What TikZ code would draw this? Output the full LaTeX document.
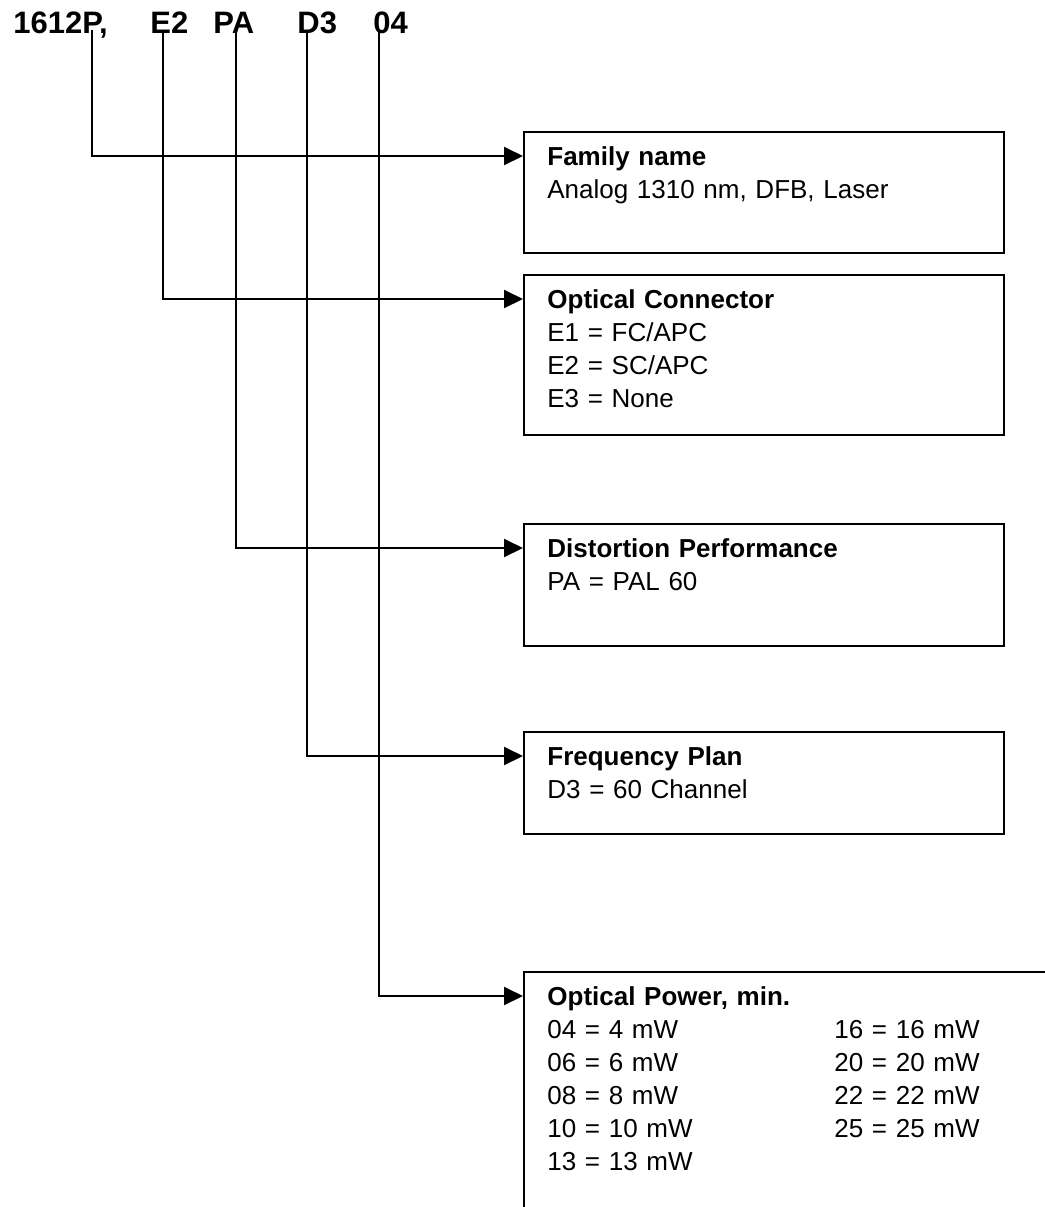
\documentclass[tikz,border=0pt]{standalone}
\usepackage{fontspec}
\setmainfont{Liberation Sans}
\usetikzlibrary{arrows.meta,calc}

\tikzset{
  optbox/.style={draw, line width=1pt, anchor=north west, inner sep=0pt, minimum width=240pt},
  opttxt/.style={anchor=north west, inner sep=0pt, align=left, text width=230pt,
    font=\fontsize{13}{16.5}\selectfont},
  wire/.style={line width=1pt, -{Triangle[length=9.5pt,width=9pt]}},
  code/.style={anchor=base west, inner sep=0pt, font=\fontsize{15.5}{18}\selectfont\bfseries}
}
\newcommand\opthead[1]{\strut\textbf{#1}}

\begin{document}
\begin{tikzpicture}[x=0.5pt,y=-0.5pt]
\clip (0,0) rectangle (1045,1207);
% part number
\node[code] (cfam) at (13,33) {1612P,};
\node[code] (ccon) at (150,33) {E2};
\node[code] (cdis) at (213,33) {PA};
\node[code] (cfrq) at (297,33) {D3};
\node[code] (cpow) at (373,33) {04};
\coordinate (tfam) at (92,30);
\coordinate (tcon) at (163,30);
\coordinate (tdis) at (236,30);
\coordinate (tfrq) at (307,30);
\coordinate (tpow) at (379,30);
% boxes
\node[optbox, minimum height=60.5pt] (fam) at (523,131) {};
\node[optbox, minimum height=80pt] (con) at (523,274) {};
\node[optbox, minimum height=61pt] (dis) at (523,523) {};
\node[optbox, minimum height=51pt] (frq) at (523,731) {};
\node[optbox, minimum height=150pt, minimum width=300pt] (pow) at (523,971) {};
% texts
\node[opttxt] (famt) at ($(fam.north west)+(24,11)$)
  {\opthead{Family name}\\Analog 1310 nm, DFB, Laser};
\node[opttxt] (cont) at ($(con.north west)+(24,11)$)
  {\opthead{Optical Connector}\\E1 = FC/APC\\E2 = SC/APC\\E3 = None};
\node[opttxt] (dist) at ($(dis.north west)+(24,11)$)
  {\opthead{Distortion Performance}\\PA = PAL 60};
\node[opttxt] (frqt) at ($(frq.north west)+(24,11)$)
  {\opthead{Frequency Plan}\\D3 = 60 Channel};
\node[opttxt] (powt) at ($(pow.north west)+(24,11)$)
  {\opthead{Optical Power, min.}\\
   \begin{tabular}[t]{@{}p{143.5pt}@{}l@{}}
   04 = 4 mW & 16 = 16 mW\\
   06 = 6 mW & 20 = 20 mW\\
   08 = 8 mW & 22 = 22 mW\\
   10 = 10 mW & 25 = 25 mW\\
   13 = 13 mW &
   \end{tabular}};
% connectors
\draw[wire] (tfam) |- ([yshift=-12.5pt]fam.north west);
\draw[wire] (tcon) |- ([yshift=-12.5pt]con.north west);
\draw[wire] (tdis) |- ([yshift=-12.5pt]dis.north west);
\draw[wire] (tfrq) |- ([yshift=-12.5pt]frq.north west);
\draw[wire] (tpow) |- ([yshift=-12.5pt]pow.north west);
\end{tikzpicture}
\end{document}
